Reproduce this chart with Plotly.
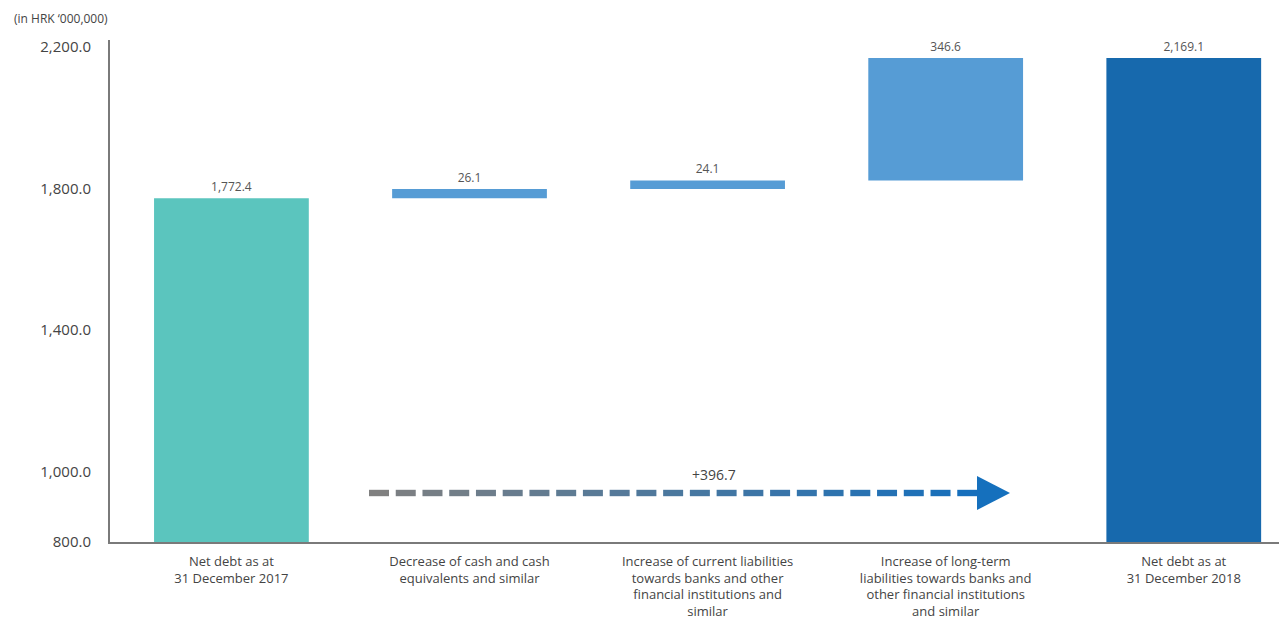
import plotly.graph_objects as go

categories = [
    "Net debt as at<br>31 December 2017",
    "Decrease of cash and cash<br>equivalents and similar",
    "Increase of current liabilities<br>towards banks and other<br>financial institutions and<br>similar",
    "Increase of long-term<br>liabilities towards banks and<br>other financial institutions<br>and similar",
    "Net debt as at<br>31 December 2018",
]
values = [1772.4, 26.1, 24.1, 346.6, 2169.1]
measures = ["absolute", "relative", "relative", "relative", "total"]
tick_vals = [800, 1000, 1400, 1800, 2200]

colors = {"absolute": "#5BC5BE", "relative": "#569CD5", "total": "#1769AD"}

y_floor = 800  # axis starts here

# bases / heights via running total
bases, heights = [], []
running = 0.0
for v, m in zip(values, measures):
    if m == "relative":
        bases.append(running)
        heights.append(v)
        running += v
    else:
        bases.append(y_floor)
        heights.append(v - y_floor)
        running = v

labels = [f"{v:,.1f}" for v in values]

fig = go.Figure()
fig.add_trace(go.Bar(
    x=list(range(len(categories))),
    y=heights,
    base=bases,
    width=0.65,
    marker=dict(color=[colors[m] for m in measures], line=dict(width=0)),
    text=labels,
    textposition="outside",
    textfont=dict(family="Open Sans", size=12, color="#555555"),
    constraintext="none",
    cliponaxis=False,
    hoverinfo="skip",
))

ymin, ymax = 800, 2220
fig.update_layout(
    width=1279, height=621,
    margin=dict(l=110, r=0, t=40, b=79),
    paper_bgcolor="white", plot_bgcolor="white",
    showlegend=False,
    font=dict(family="Open Sans", color="#444444"),
    xaxis=dict(
        range=[-0.51, 4.4],
        tickmode="array",
        tickvals=list(range(len(categories))),
        ticktext=categories,
        tickfont=dict(size=13, color="#444444"),
        showgrid=False, zeroline=False,
        showline=True, linecolor="#7a7a7a", linewidth=2,
        ticks="", ticklabelstandoff=6,
    ),
    yaxis=dict(
        range=[ymin, ymax],
        tickmode="array",
        tickvals=tick_vals,
        tickformat=",.1f",
        tickfont=dict(size=15, color="#444444"),
        showgrid=False, zeroline=False,
        showline=True, linecolor="#7a7a7a", linewidth=2,
        ticks="", ticklabelstandoff=14,
    ),
)

fig.add_annotation(
    text="(in HRK ‘000,000)", xref="paper", yref="paper",
    x=-110 / 1169 + 12 / 1169, y=1 + 22 / 502, xanchor="left", yanchor="middle",
    showarrow=False, font=dict(family="Open Sans", size=12, color="#444444"),
)

# dashed gradient arrow showing total change
change = values[-1] - values[0]
plot_w, plot_h = 1169, 502
def px(xp):
    return (xp - 110) / plot_w
y_c = (542 - 493) / plot_h
half_h = 3.2 / plot_h
x_start, x_end = 369, 977
n = 23
period = (x_end - x_start + 7) / n
c0 = (0x80, 0x80, 0x80)
c1 = (0x16, 0x6F, 0xBC)
for i in range(n):
    t = i / (n - 1)
    c = tuple(int(round(a + (b - a) * t)) for a, b in zip(c0, c1))
    xs = x_start + i * period
    fig.add_shape(type="rect", xref="paper", yref="paper",
                  x0=px(xs), x1=px(xs + 20), y0=y_c - half_h, y1=y_c + half_h,
                  fillcolor="rgb(%d,%d,%d)" % c, line=dict(width=0), layer="above")
fig.add_shape(type="path", xref="paper", yref="paper",
              path=f"M {px(977)} {y_c + 17/plot_h} L {px(1010)} {y_c} L {px(977)} {y_c - 17/plot_h} Z",
              fillcolor="#1570BD", line=dict(width=0), layer="above")
fig.add_annotation(
    text=f"+{change:,.1f}", xref="paper", yref="paper",
    x=px(714), y=(542 - 474) / plot_h, xanchor="center", yanchor="middle",
    showarrow=False, font=dict(family="Open Sans", size=14, color="#444444"),
)

fig.write_html("out.html")
